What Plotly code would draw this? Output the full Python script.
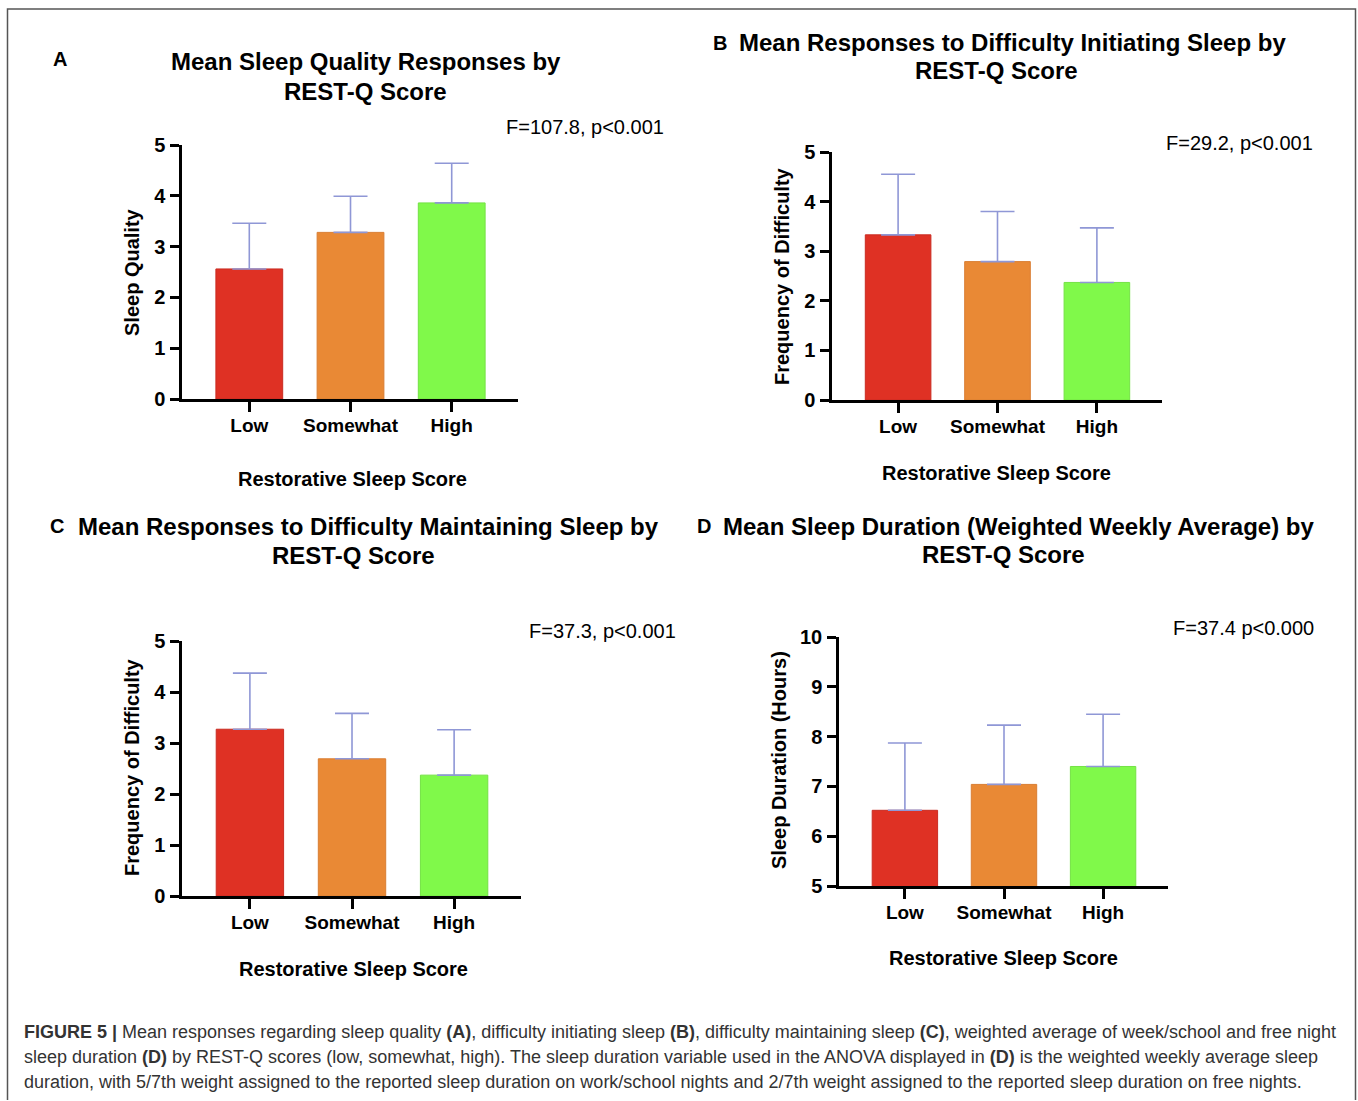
import plotly.graph_objects as go

W, H = 1358, 1101

categories = ["Low", "Somewhat", "High"]
bar_colors = ["#df3124", "#e98935", "#80f94a"]
edge_colors = ["#c92c22", "#d97e33", "#74e244"]

# Panel A: sleep quality
a_means = [2.56, 3.28, 3.86]
a_err = [0.90, 0.71, 0.78]
# Panel B: difficulty initiating sleep
b_means = [3.33, 2.79, 2.37]
b_err = [1.22, 1.01, 1.10]
# Panel C: difficulty maintaining sleep
c_means = [3.27, 2.69, 2.37]
c_err = [1.10, 0.89, 0.89]
# Panel D: sleep duration (hours)
d_means = [6.52, 7.04, 7.40]
d_err = [1.35, 1.19, 1.05]

y_ticks_1to5 = [0, 1, 2, 3, 4, 5]
y_ticks_d = [5, 6, 7, 8, 9, 10]

titles = {
    "A": ("Mean Sleep Quality Responses by", "REST-Q Score"),
    "B": ("Mean Responses to Difficulty Initiating Sleep by", "REST-Q Score"),
    "C": ("Mean Responses to Difficulty Maintaining Sleep by", "REST-Q Score"),
    "D": ("Mean Sleep Duration (Weighted Weekly Average) by", "REST-Q Score"),
}
stats = {
    "A": "F=107.8, p<0.001",
    "B": "F=29.2, p<0.001",
    "C": "F=37.3, p<0.001",
    "D": "F=37.4 p<0.000",
}
y_titles = {
    "A": "Sleep Quality",
    "B": "Frequency of Difficulty",
    "C": "Frequency of Difficulty",
    "D": "Sleep Duration (Hours)",
}
x_title = "Restorative Sleep Score"

caption_lines = [
    "<b>FIGURE 5 |</b> Mean responses regarding sleep quality <b>(A)</b>, difficulty initiating sleep <b>(B)</b>, difficulty maintaining sleep <b>(C)</b>, weighted average of week/school and free night",
    "sleep duration <b>(D)</b> by REST-Q scores (low, somewhat, high). The sleep duration variable used in the ANOVA displayed in <b>(D)</b> is the weighted weekly average sleep",
    "duration, with 5/7th weight assigned to the reported sleep duration on work/school nights and 2/7th weight assigned to the reported sleep duration on free nights.",
]

FONT = "Liberation Sans, Arial, Helvetica, sans-serif"


def px(x):
    return x / W


def py(y):
    return 1 - y / H


# layout geometry in pixels: (x_left, x_right, y_top, y_bottom)
panels = {
    "A": dict(box=(182, 518, 145, 399), means=a_means, err=a_err, yr=[0, 5], yt=y_ticks_1to5,
              letter=(60, 59), t1=(366, 62), t2=(365, 91), stat=(666, 127), ytitle=(132, 272), xtitle=(352, 479)),
    "B": dict(box=(832, 1162, 152, 400), means=b_means, err=b_err, yr=[0, 5], yt=y_ticks_1to5,
              letter=(720, 43), t1=(1012, 42), t2=(997, 70), stat=(1315, 143), ytitle=(782, 276), xtitle=(997, 473)),
    "C": dict(box=(182, 521, 641, 896), means=c_means, err=c_err, yr=[0, 5], yt=y_ticks_1to5,
              letter=(57, 526), t1=(369, 526), t2=(353, 555), stat=(678, 631), ytitle=(132, 767), xtitle=(353, 969)),
    "D": dict(box=(839, 1168, 637, 886), means=d_means, err=d_err, yr=[5, 10], yt=y_ticks_d,
              letter=(704, 526), t1=(1018, 526), t2=(1003, 554), stat=(1316, 628), ytitle=(779, 760), xtitle=(1003, 958)),
}

fig = go.Figure()
annotations = []
layout_axes = {}

for i, (key, p) in enumerate(panels.items(), start=1):
    xa = "x" if i == 1 else f"x{i}"
    ya = "y" if i == 1 else f"y{i}"
    fig.add_trace(go.Bar(
        x=categories, y=p["means"], xaxis=xa, yaxis=ya,
        marker=dict(color=bar_colors, line=dict(color=edge_colors, width=1)),
        width=0.66,
        error_y=dict(type="data", symmetric=False, array=p["err"], arrayminus=[0, 0, 0],
                     color="#8f97d6", thickness=1.6, width=17),
        showlegend=False,
    ))
    x0, x1, y0, y1 = p["box"]
    axis_common = dict(
        showline=True, linecolor="black", linewidth=2.5,
        ticks="outside", ticklen=10, tickwidth=2.5, tickcolor="black",
        showgrid=False, zeroline=False,
        tickfont=dict(family=FONT, size=19, color="black", weight="bold"),
    )
    layout_axes["xaxis" if i == 1 else f"xaxis{i}"] = dict(
        axis_common, domain=[px(x0), px(x1)], anchor=ya, range=[-0.665, 2.655],
        type="category", ticklabelstandoff=-3,
    )
    layout_axes["yaxis" if i == 1 else f"yaxis{i}"] = dict(
        axis_common, domain=[py(y1), py(y0)], anchor=xa, range=p["yr"],
        tickvals=p["yt"], ticklen=9, ticklabelstandoff=1,
        tickfont=dict(family=FONT, size=20, color="black", weight="bold"),
    )

    def ann(text, xy, size, bold=True, xanchor="center", angle=0, color="black"):
        annotations.append(dict(
            text=text, x=px(xy[0]), y=py(xy[1]), xref="paper", yref="paper",
            xanchor=xanchor, yanchor="middle", showarrow=False, textangle=angle,
            font=dict(family=FONT, size=size, color=color, weight="bold" if bold else "normal"),
        ))

    ann(key, p["letter"], 20)
    ann(titles[key][0], p["t1"], 24)
    ann(titles[key][1], p["t2"], 24)
    ann(stats[key], p["stat"], 20, bold=False, xanchor="right")
    ann(y_titles[key], p["ytitle"], 20, angle=-90)
    ann(x_title, p["xtitle"], 20)

for j, line in enumerate(caption_lines):
    annotations.append(dict(
        text=line, x=px(22), y=py(1032 + 25 * j), xref="paper", yref="paper",
        xanchor="left", yanchor="middle", showarrow=False,
        font=dict(family=FONT, size=18, color="#333333"),
    ))

frame = dict(
    type="path", xref="paper", yref="paper",
    path=f"M {px(7.5)} {py(1100)} L {px(7.5)} {py(9)} L {px(1355.5)} {py(9)} L {px(1355.5)} {py(1100)}",
    line=dict(color="#555555", width=1.5),
)

fig.update_layout(
    width=W, height=H, margin=dict(l=0, r=0, t=0, b=0, autoexpand=False),
    paper_bgcolor="white", plot_bgcolor="white",
    annotations=annotations, shapes=[frame],
    font=dict(family=FONT),
    **layout_axes,
)

fig.write_html("out.html")
